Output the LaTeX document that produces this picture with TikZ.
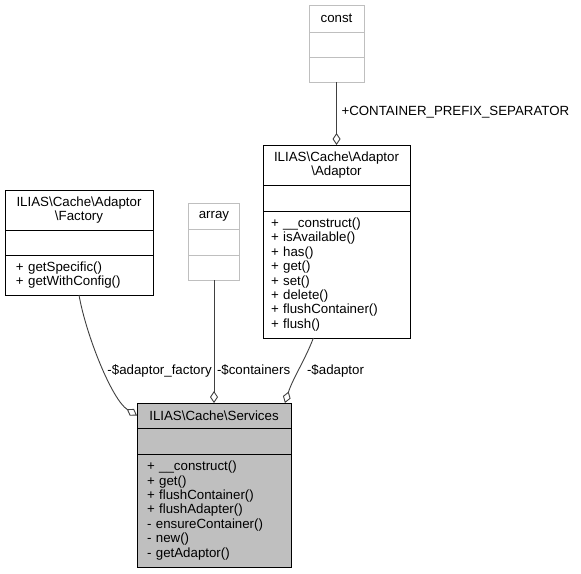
\documentclass[tikz,border=0pt]{standalone}
\usepackage{fontspec}
\setmainfont{Liberation Sans}
\usepackage{xcolor}
\usepackage{tikz}
\usetikzlibrary{arrows.meta,positioning}
\definecolor{linkgray}{HTML}{404040}
\definecolor{boxgray}{HTML}{BFBFBF}
\newcommand{\bs}{\textbackslash}

\begin{document}
\begin{tikzpicture}[x=1pt, y=-1pt, inner sep=0pt, outer sep=0pt,
  every node/.style={font=\fontsize{13.3}{14.4}\selectfont},
  sec/.style={draw=black, fill=white, line width=0.9pt, align=center, anchor=north},
  lib/.style={sec, draw=boxgray},
  meth/.style={sec, align=left},
  assoc/.style={draw=linkgray, line width=0.9pt, -{Diamond[fill=white, length=12pt, width=8pt]}},
  lbl/.style={inner sep=3pt, right}]
%
\useasboundingbox (0,0) rectangle (581,573);
%
\node (facT) [sec, minimum width=148pt, minimum height=40pt] at (79,190) {ILIAS\bs Cache\bs Adaptor\\\bs Factory};
\node (facA) [sec, minimum width=148pt, minimum height=25pt, below=0pt of facT] {};
\node (facM) [meth, inner xsep=11pt, text width=126pt, minimum height=40pt, below=0pt of facA] {+ getSpecific()\\+ getWithConfig()};
%
\node (arrT) [lib, minimum width=51pt, minimum height=26pt] at (214,203) {array};
\node (arrA) [lib, minimum width=51pt, minimum height=26pt, below=0pt of arrT] {};
\node (arrM) [lib, minimum width=51pt, minimum height=25pt, below=0pt of arrA] {};
%
\node (conT) [lib, minimum width=55pt, minimum height=27pt] at (336.5,5) {const};
\node (conA) [lib, minimum width=55pt, minimum height=25pt, below=0pt of conT] {};
\node (conM) [lib, minimum width=55pt, minimum height=25pt, below=0pt of conA] {};
%
\node (adaT) [sec, minimum width=147pt, minimum height=40pt] at (336.5,145) {ILIAS\bs Cache\bs Adaptor\\\bs Adaptor};
\node (adaA) [sec, minimum width=147pt, minimum height=26pt, below=0pt of adaT] {};
\node (adaM) [meth, inner xsep=8pt, text width=131pt, minimum height=127pt, below=0pt of adaA] {+ \_\_construct()\\+ isAvailable()\\+ has()\\+ get()\\+ set()\\+ delete()\\+ flushContainer()\\+ flush()};
%
\node (svcT) [sec, fill=boxgray, minimum width=154pt, minimum height=25pt] at (214,403) {ILIAS\bs Cache\bs Services};
\node (svcA) [sec, fill=boxgray, minimum width=154pt, minimum height=26pt, below=0pt of svcT] {};
\node (svcM) [meth, fill=boxgray, inner xsep=10pt, text width=134pt, minimum height=113pt, below=0pt of svcA] {+ \_\_construct()\\+ get()\\+ flushContainer()\\+ flushAdapter()\\- ensureContainer()\\- new()\\- getAdaptor()};
%
\path (conM.south) edge[assoc] node[lbl, pos=0.48, xshift=2pt] {+CONTAINER\_PREFIX\_SEPARATOR} (adaT.north);
\draw[assoc] (facM.south) .. controls (86,335) and (112,400) .. node[lbl, pos=0.55] {-\$adaptor\_factory} (svcT.west);
\path (arrM.south) edge[assoc] node[lbl, pos=0.73] {-\$containers} (svcT.north);
\draw[assoc] (adaM.250) .. controls (305,360) and (293,378) .. node[lbl, pos=0.5, xshift=5pt, yshift=-2pt] {-\$adaptor} (svcT.10);
\end{tikzpicture}
\end{document}
